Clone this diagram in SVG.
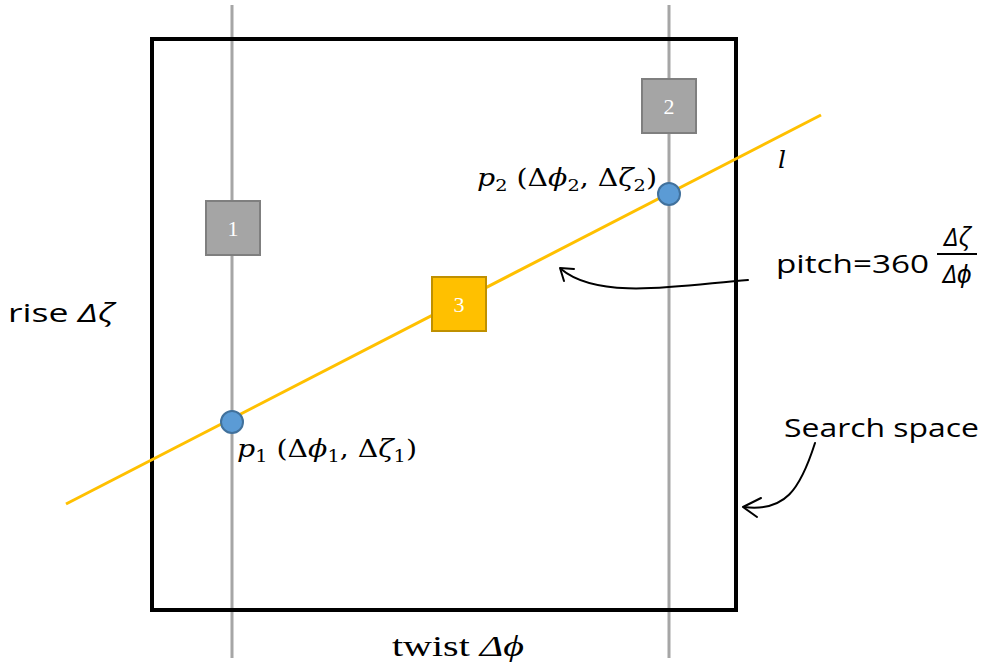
<svg xmlns="http://www.w3.org/2000/svg" width="985" height="666" viewBox="0 0 985 666">
<defs>
<style>
.gl{stroke:#A6A6A6;stroke-width:3;fill:none}
.gb{fill:#A5A5A5;stroke:#7F7F7F;stroke-width:2}
.ob{fill:#FFC000;stroke:#BF9000;stroke-width:2}
.num{font-family:"Liberation Serif",serif;font-size:22px;fill:#fff;text-anchor:middle}
.pt{fill:#5B9BD5;stroke:#41719C;stroke-width:2}
.math{font-family:"DejaVu Serif","Liberation Serif",serif;font-size:25px;fill:#000}
.sub{font-size:17px}
.sans{font-family:"Open Sans","Liberation Sans",sans-serif;font-size:26px;fill:#000}
.arr{fill:none;stroke:#000;stroke-width:2;stroke-linecap:round;stroke-linejoin:round}
</style>
</defs>
<rect width="985" height="666" fill="#fff"/>
<g id="connectors">
<line class="gl" x1="232" y1="5" x2="232" y2="658"/>
<line class="gl" x1="669" y1="5" x2="669" y2="658"/>
<rect id="search-space" x="152" y="39" width="584" height="571" fill="none" stroke="#000" stroke-width="4"/>
<line x1="66" y1="504" x2="821" y2="115" stroke="#FFC000" stroke-width="3"/>
<path class="arr" d="M748,280 C690,284 600,302 561,269"/>
<path class="arr" d="M574,269 L560,268 L564,281"/>
<path class="arr" d="M815,443 C800,490 785,512 744,507"/>
<path class="arr" d="M761,498 L743,507 L757,517"/>
</g>
<g id="node1"><rect class="gb" x="206" y="201" width="54" height="54"/><text class="num" x="233" y="236">1</text></g>
<g id="node2"><rect class="gb" x="642" y="79" width="54" height="54"/><text class="num" x="669" y="114">2</text></g>
<g id="node3"><rect class="ob" x="432" y="277" width="54" height="54"/><text class="num" x="459" y="312">3</text></g>
<g id="p1"><circle class="pt" cx="232" cy="422" r="11"/>
<text class="math" x="237" y="457" textLength="180" lengthAdjust="spacingAndGlyphs"><tspan font-style="italic">p</tspan><tspan class="sub" dy="5">1</tspan><tspan dy="-5"> (Δ</tspan><tspan font-style="italic">ϕ</tspan><tspan class="sub" dy="5">1</tspan><tspan dy="-5">, Δ</tspan><tspan font-style="italic">ζ</tspan><tspan class="sub" dy="5">1</tspan><tspan dy="-5">)</tspan></text></g>
<g id="p2"><circle class="pt" cx="669" cy="194" r="11"/>
<text class="math" x="477" y="186" textLength="180" lengthAdjust="spacingAndGlyphs"><tspan font-style="italic">p</tspan><tspan class="sub" dy="5">2</tspan><tspan dy="-5"> (Δ</tspan><tspan font-style="italic">ϕ</tspan><tspan class="sub" dy="5">2</tspan><tspan dy="-5">, Δ</tspan><tspan font-style="italic">ζ</tspan><tspan class="sub" dy="5">2</tspan><tspan dy="-5">)</tspan></text></g>
<text class="math" x="778" y="168" font-style="italic" font-size="28">l</text>
<g id="pitch">
<text class="sans" x="776" y="273" textLength="153" lengthAdjust="spacingAndGlyphs">pitch=360</text>
<text class="sans" x="957" y="246" font-size="18" font-style="italic" text-anchor="middle">Δζ</text>
<line x1="937" y1="254" x2="977" y2="254" stroke="#000" stroke-width="2"/>
<text class="sans" x="957" y="283" font-size="18" font-style="italic" text-anchor="middle">Δϕ</text>
</g>
<text class="sans" x="8" y="322" textLength="106" lengthAdjust="spacingAndGlyphs">rise <tspan font-style="italic">Δζ</tspan></text>
<text x="392" y="656" font-family="'Liberation Serif', serif" font-size="30" textLength="132" lengthAdjust="spacingAndGlyphs">twist <tspan font-style="italic">Δϕ</tspan></text>
<text class="sans" x="784" y="437" textLength="195" lengthAdjust="spacingAndGlyphs">Search space</text>
</svg>
